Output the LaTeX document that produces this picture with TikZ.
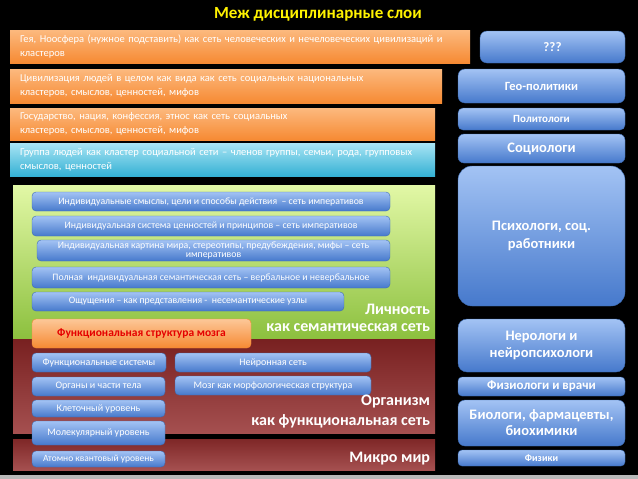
\documentclass[tikz,border=0pt]{standalone}
\usepackage{fontspec}
\setmainfont{Carlito}
\definecolor{otop}{HTML}{FCB97E}
\definecolor{obot}{HTML}{F68A33}
\definecolor{ctop}{HTML}{A8E4F4}
\definecolor{cbot}{HTML}{35B1D4}
\definecolor{gtop}{HTML}{E2F8A6}
\definecolor{gbot}{HTML}{8CC03E}
\definecolor{rtop}{HTML}{782020}
\definecolor{rbot}{HTML}{A55050}
\definecolor{btop}{HTML}{A3C3F4}
\definecolor{bbot}{HTML}{4679CC}
\definecolor{bline}{HTML}{3E6CB2}
\begin{document}
\begin{tikzpicture}[x=1pt,y=-1pt,
  every node/.style={inner sep=0pt, outer sep=0pt},
  obar/.style={anchor=north west, top color=otop, bottom color=obot, text=white, align=left, inner xsep=10pt, font=\fontsize{10.5}{14}\selectfont},
  cbar/.style={obar, top color=ctop, bottom color=cbot},
  bbox/.style={anchor=north west, rounded corners=4pt, top color=btop, bottom color=bbot, draw=bline, line width=0.4pt, text=white, align=center, font=\fontsize{9.8}{10}\selectfont},
  obox/.style={bbox, font=\fontsize{10}{12}\selectfont},
  rbox/.style={bbox, font=\bfseries\fontsize{14}{17}\selectfont, rounded corners=7pt},
  layer/.style={anchor=north west},
  lbl/.style={anchor=east, text=white, font=\bfseries\fontsize{16}{18}\selectfont}]
\fill[black] (0,0) rectangle (638,479);
\fill[gray!55] (0,475) rectangle (638,479);
% title
\node[text=yellow, font=\bfseries\fontsize{17}{18}\selectfont] (title) at (318,14) {Меж дисциплинарные слои};
% left bars
\node[obar, text width=440pt, minimum height=33pt] (o1) at (10,30) {Гея, Ноосфера (нужное подставить) как сеть человеческих и нечеловеческих цивилизаций и\\кластеров};
\node[obar, text width=412pt, minimum height=34pt] (o2) at (10,69) {Цивилизация людей в целом как вида как сеть социальных национальных\\кластеров, смыслов, ценностей, мифов};
\node[obar, text width=405pt, minimum height=32pt] (o3) at (10,108) {Государство, нация, конфессия, этнос как сеть социальных\\кластеров, смыслов, ценностей, мифов};
\node[cbar, text width=405pt, minimum height=33pt] (c1) at (10,143) {Группа людей как кластер социальной сети -- членов группы, семьи, рода, групповых\\смыслов, ценностей};
% layers
\node[layer, top color=gtop, bottom color=gbot, minimum width=422pt, minimum height=154pt] (green) at (13,185) {};
\node[layer, top color=rtop, bottom color=rbot, minimum width=422pt, minimum height=94pt] (org) at (13,339) {};
\node[layer, top color=rtop!85!rbot, bottom color=rbot, minimum width=422pt, minimum height=31pt] (micro) at (13,439) {};
% personality boxes
\node[bbox, minimum width=358pt, minimum height=19pt] (p1) at (32,192) {Индивидуальные смыслы, цели и способы действия~ -- сеть императивов};
\node[bbox, minimum width=358pt, minimum height=20pt] (p2) at (32,216) {Индивидуальная система ценностей и принципов -- сеть императивов};
\node[bbox, minimum width=353pt, minimum height=21pt, font=\fontsize{9.8}{9.5}\selectfont] (p3) at (37,240) {Индивидуальная картина мира, стереотипы, предубеждения, мифы -- сеть\\императивов};
\node[bbox, minimum width=358pt, minimum height=21pt] (p4) at (32,267) {Полная~ индивидуальная семантическая сеть -- вербальное и невербальное};
\node[bbox, minimum width=312pt, minimum height=19pt] (p5) at (32,292) {Ощущения -- как представления -~ несемантические узлы};
\node[bbox, top color=otop!80!white, bottom color=obot, draw=obot, text=red!90!black, font=\bfseries\fontsize{11.5}{13}\selectfont, minimum width=219pt, minimum height=29pt] (brain) at (32,319) {Функциональная структура мозга};
\node[lbl] (lich1) at (430,309) {Личность};
\node[lbl] (lich2) at (430,328) {как семантическая сеть};
% organism boxes
\node[obox, minimum width=134pt, minimum height=19pt] (f1) at (32,353) {Функциональные системы};
\node[obox, minimum width=133pt, minimum height=19pt] (f2) at (32,377) {Органы и части тела};
\node[obox, minimum width=133pt, minimum height=17pt] (f3) at (32,400) {Клеточный уровень};
\node[obox, minimum width=133pt, minimum height=24pt] (f4) at (32,421) {Молекулярный уровень};
\node[obox, minimum width=133pt, minimum height=16pt, font=\fontsize{9.5}{11}\selectfont] (f5) at (32,451) {Атомно квантовый уровень};
\node[obox, minimum width=196pt, minimum height=19pt] (n1) at (175,353) {Нейронная сеть};
\node[obox, minimum width=196pt, minimum height=19pt] (n2) at (175,376) {Мозг как морфологическая структура};
\node[lbl] (org1) at (430,402) {Организм};
\node[lbl] (org2) at (430,421) {как функциональная сеть};
\node[lbl] (mic1) at (430,459) {Микро мир};
% right column
\node[rbox, minimum width=145pt, minimum height=32pt, font=\bfseries\fontsize{13}{15}\selectfont] (r0) at (480,31) {???};
\node[rbox, minimum width=167pt, minimum height=34pt, font=\bfseries\fontsize{12.5}{14}\selectfont] (r1) at (458,69) {Гео-политики};
\node[rbox, minimum width=167pt, minimum height=22pt, font=\bfseries\fontsize{11}{12}\selectfont, rounded corners=5pt] (r2) at (458,108) {Политологи};
\node[rbox, minimum width=167pt, minimum height=29pt, rounded corners=6pt, font=\bfseries\fontsize{14.5}{16}\selectfont] (r3) at (458,134) {Социологи};
\node[rbox, minimum width=167pt, minimum height=140pt, rounded corners=14pt, font=\bfseries\fontsize{14.5}{18}\selectfont] (r4) at (458,166) {Психологи, соц.\\работники};
\node[rbox, minimum width=167pt, minimum height=53pt, rounded corners=9pt, font=\bfseries\fontsize{14.5}{16.5}\selectfont] (r5) at (458,319) {Нерологи и\\нейропсихологи};
\node[rbox, minimum width=167pt, minimum height=19pt, font=\bfseries\fontsize{13}{14}\selectfont, rounded corners=4pt] (r6) at (458,377) {Физиологи и врачи};
\node[rbox, minimum width=167pt, minimum height=46pt, font=\bfseries\fontsize{14.5}{16}\selectfont] (r7) at (458,400) {Биологи, фармацевты,\\биохимики};
\node[rbox, minimum width=167pt, minimum height=16pt, font=\bfseries\fontsize{10}{11}\selectfont, rounded corners=4pt] (r8) at (458,450) {Физики};
\end{tikzpicture}
\end{document}
